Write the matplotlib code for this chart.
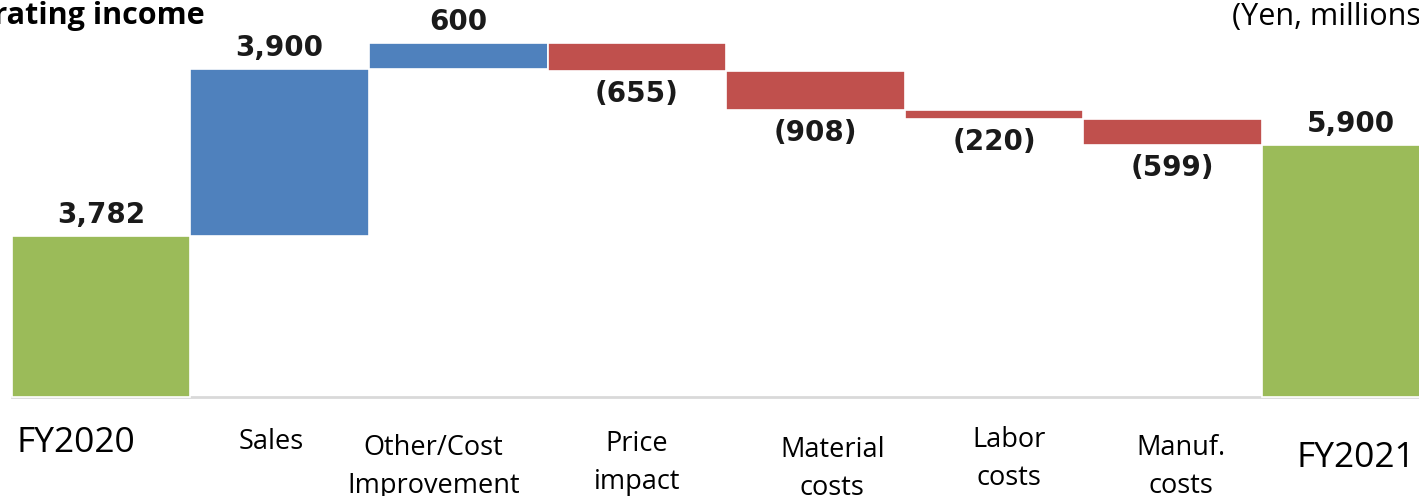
import numpy as np
import matplotlib.pyplot as plt

# 営業利益の増減要因（百万円）
categories = ["FY2020", "Sales", "Other/Cost\nImprovement", "Price\nimpact",
              "Material\ncosts", "Labor\ncosts", "Manuf.\ncosts", "FY2021"]
start_value = 3782
deltas = [3900, 600, -655, -908, -220, -599]
end_value = 5900
value_labels = ["3,782", "3,900", "600", "(655)", "(908)", "(220)", "(599)", "5,900"]

GREEN = "#9BBB59"
BLUE = "#4F81BD"
RED = "#C0504D"

W, H, DPI = 1419, 496, 100
fig = plt.figure(figsize=(W / DPI, H / DPI), dpi=DPI)
ax = fig.add_axes([0, 0, 1, 1])
ax.set_axis_off()

# 積み上げの下端と高さ
bottoms = [0]
heights = [start_value]
level = start_value
for d in deltas:
    if d >= 0:
        bottoms.append(level)
        heights.append(d)
    else:
        bottoms.append(level + d)
        heights.append(-d)
    level += d
bottoms.append(0)
heights.append(end_value)

colors = [GREEN] + [BLUE if d >= 0 else RED for d in deltas] + [GREEN]
x = np.arange(len(categories))

ax.bar(x, heights, bottom=bottoms, width=1.0, color=colors,
       edgecolor="white", linewidth=1.2, zorder=2)

# 表示範囲（ピクセル換算）
x0_px, pitch_px = 101, 178.6
ax.set_xlim(-x0_px / pitch_px, (W - x0_px) / pitch_px)
base_px, scale = 397, 0.0427
ax.set_ylim(-(H - base_px) / scale, base_px / scale)

ax.plot([-0.5, 7.5], [0, 0], color="#D9D9D9", lw=2, zorder=1)

# 数値ラベル
for i, lab in enumerate(value_labels):
    if 0 < i < len(categories) - 1 and deltas[i - 1] < 0:
        ax.annotate(lab, xy=(i, bottoms[i]), xytext=(0, -23), textcoords="offset pixels",
                    ha="center", va="center", fontsize=20, fontweight="bold",
                    family="DejaVu Sans", color="#1a1a1a")
    else:
        ax.annotate(lab, xy=(i, bottoms[i] + heights[i]), xytext=(0, 21),
                    textcoords="offset pixels", ha="center", va="center",
                    fontsize=20, fontweight="bold", family="DejaVu Sans", color="#1a1a1a")

# 項目名（位置はまちまち）
label_dx = [-25, -8, -25, 0, 17, 15, 8, 5]
label_y = [443, 442, 467, 463, 469, 459, 467, 458]
label_size = [25.5, 19.5, 19.5, 19.5, 19.5, 19.5, 19.5, 25.5]
for i, cat in enumerate(categories):
    ax.annotate(cat, xy=(i, 0), xytext=(label_dx[i], -(label_y[i] - base_px)),
                textcoords="offset pixels", ha="center", va="center",
                fontsize=label_size[i], family="Open Sans", linespacing=1.5,
                color="black")

fig.text(205 / W, 1 - 24 / H, "Operating income", ha="right", va="baseline",
         fontsize=22, fontweight="bold", family="Open Sans")
fig.text(1232 / W, 1 - 25 / H, "(Yen, millions)", ha="left", va="baseline",
         fontsize=22, family="Open Sans")

fig.savefig("out.png", dpi=DPI)
